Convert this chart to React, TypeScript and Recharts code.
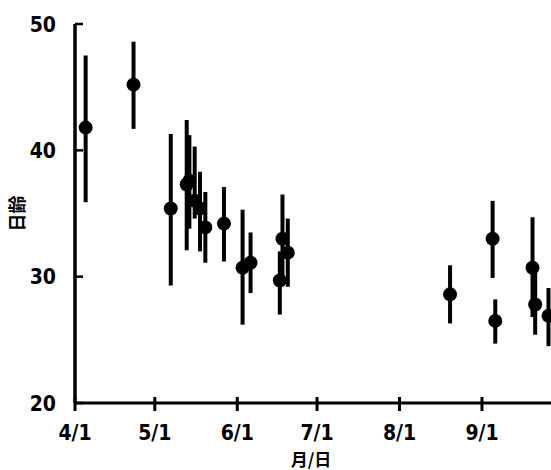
import { ScatterChart, Scatter, XAxis, YAxis, ErrorBar } from 'recharts'

// days counted from 4/1
const days = [4, 22, 36, 42, 43, 45, 47, 49, 56, 63, 66, 77, 78, 80, 141, 157, 158, 172, 173, 178]
const ages = [41.8, 45.2, 35.4, 37.3, 37.6, 36.0, 35.4, 33.9, 34.2, 30.7, 31.1, 29.7, 33.0, 31.9, 28.6, 33.0, 26.5, 30.7, 27.8, 26.9]
const lows = [35.9, 41.7, 29.3, 32.1, 33.8, 34.6, 32.0, 31.1, 31.2, 26.2, 28.7, 27.0, 29.5, 29.2, 26.3, 29.9, 24.7, 26.8, 25.4, 24.5]
const highs = [47.5, 48.6, 41.3, 42.4, 41.2, 40.3, 38.3, 36.7, 37.1, 35.3, 33.5, 32.0, 36.5, 34.6, 30.9, 36.0, 28.2, 34.7, 30.3, 29.1]

const xTicks = [0, 30, 61, 91, 122, 153]
const xTickLabels = ['4/1', '5/1', '6/1', '7/1', '8/1', '9/1']
const yTicks = [20, 30, 40, 50]

const data = days.map((d, i) => ({
  day: d,
  age: ages[i],
  err: [ages[i] - lows[i], highs[i] - ages[i]],
}))

const TICK_FONT = "'Liberation Sans Narrow', 'DejaVu Sans Condensed', 'Arial Narrow', sans-serif"
const CJK_FONT = "'Noto Sans CJK JP', sans-serif"

function XTick(props: any) {
  const { x, y, payload } = props
  const idx = xTicks.indexOf(payload.value)
  return (
    <g>
      <line x1={x} x2={x} y1={y - 6} y2={y + 8} stroke="#000" strokeWidth={3} />
      <text x={x} y={y + 37} textAnchor="middle" fontFamily={TICK_FONT} fontWeight="bold" fontSize={21} fill="#000">
        {xTickLabels[idx]}
      </text>
    </g>
  )
}

function YTick(props: any) {
  const { x, y, payload } = props
  return (
    <g>
      <line x1={x} x2={x + 8} y1={y} y2={y} stroke="#000" strokeWidth={2.5} />
      <text x={x - 19} y={y + 7.5} textAnchor="end" fontFamily={TICK_FONT} fontWeight="bold" fontSize={21} fill="#000">
        {payload.value}
      </text>
    </g>
  )
}

function YLabel(props: any) {
  const { viewBox } = props
  const cx = viewBox.x + 16
  const cy = viewBox.y + viewBox.height / 2
  return (
    <text x={cx} y={cy} transform={`rotate(-90 ${cx} ${cy})`} textAnchor="middle" dominantBaseline="central"
      fontFamily={CJK_FONT} fontWeight="bold" fontSize={18} fill="#000">
      日齢
    </text>
  )
}

function XLabel(props: any) {
  const { viewBox } = props
  return (
    <text x={viewBox.x + 236} y={viewBox.y + 55} textAnchor="middle" dominantBaseline="central"
      fontFamily={CJK_FONT} fontWeight="bold" fontSize={17} fill="#000">
      月/日
    </text>
  )
}

const Dot = (p: any) => <circle cx={p.cx} cy={p.cy} r={7} fill="#000" />

export default function App() {
  return (
    <div style={{ position: 'fixed', top: 0, left: 0, width: 551, height: 470, overflow: 'hidden', background: '#fff' }}>
      <ScatterChart width={620} height={470} margin={{ top: 24, right: 13, bottom: 27, left: 0 }}>
        <XAxis
          type="number"
          dataKey="day"
          domain={[0, 200]}
          ticks={xTicks}
          height={40}
          tickSize={0}
          tickMargin={0}
          tickLine={false}
          axisLine={{ stroke: '#000', strokeWidth: 3 }}
          tick={<XTick />}
          label={<XLabel />}
        />
        <YAxis
          type="number"
          dataKey="age"
          domain={[20, 50]}
          ticks={yTicks}
          width={75}
          tickSize={0}
          tickMargin={0}
          tickLine={false}
          axisLine={{ stroke: '#000', strokeWidth: 3.5 }}
          tick={<YTick />}
          label={<YLabel />}
        />
        <Scatter data={data} fill="#000" shape={Dot} isAnimationActive={false}>
          <ErrorBar dataKey="err" direction="y" width={0} stroke="#000" strokeWidth={4} />
        </Scatter>
      </ScatterChart>
    </div>
  )
}
